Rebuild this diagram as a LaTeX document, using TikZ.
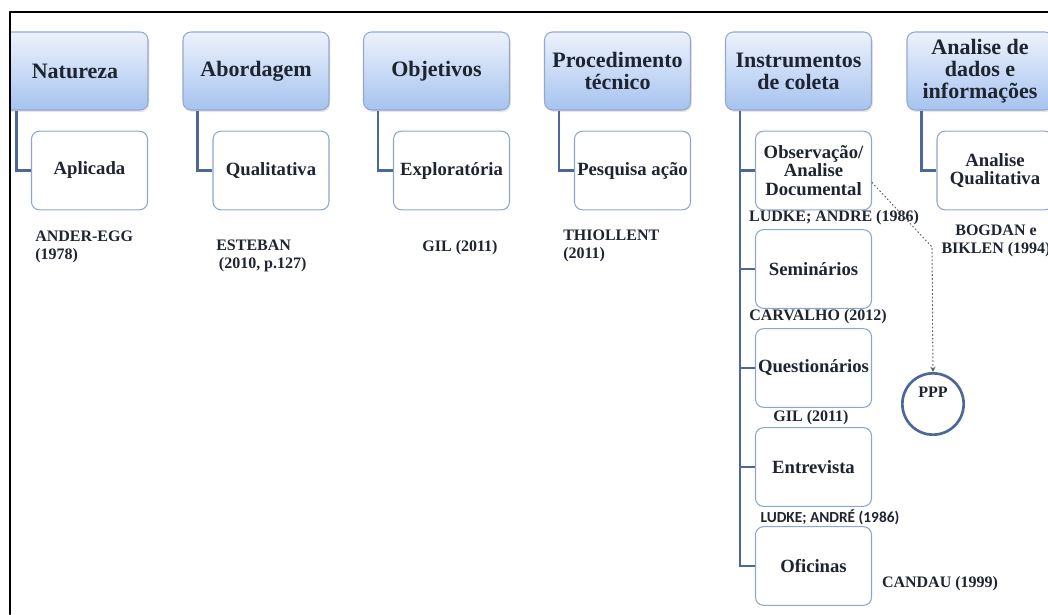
\documentclass[tikz,border=0pt]{standalone}
\usepackage{fontspec}
\setmainfont{Liberation Serif}
\setsansfont{Carlito}
\usepackage{tikz}
\usetikzlibrary{arrows.meta,calc,shadows}
\definecolor{hdrtop}{HTML}{EDF2FC}
\definecolor{hdrbot}{HTML}{A6C3EF}
\definecolor{hdrline}{HTML}{93A8CF}
\definecolor{boxline}{HTML}{8EA6CF}
\definecolor{linkblue}{HTML}{4B6899}
\definecolor{ink}{HTML}{1E2430}

\begin{document}
\begin{tikzpicture}[line cap=round,line join=round,x=0.75pt,y=-0.75pt,
    header/.style={draw=hdrline,line width=0.8pt,rounded corners=6pt,top color=hdrtop,bottom color=hdrbot,
        minimum width=109.5pt,minimum height=58.5pt,align=center,inner sep=1pt,text=ink,
        font=\fontsize{16.5}{16.5}\selectfont\bfseries,
        drop shadow={shadow xshift=1pt,shadow yshift=-1.5pt,opacity=0.2}},
    leaf/.style={draw=boxline,line width=0.8pt,rounded corners=6pt,fill=white,
        minimum width=87pt,minimum height=59pt,align=center,inner sep=1pt,text=ink,
        font=\fontsize{14}{14}\selectfont\bfseries},
    cite/.style={inner sep=0pt,align=left,text=ink,font=\fontsize{12}{14}\selectfont\bfseries},
    link/.style={draw=linkblue,line width=2.2pt,line cap=butt,line join=miter}]
    \useasboundingbox (0,0) rectangle (1048,614);
    \begin{scope}
        \clip (10,12) rectangle (1048,614);
        \node[header] (nat) at (75,71) {Natureza};
        \node[header] (abo) at (256,71) {Abordagem};
        \node[header] (obj) at (436.5,71) {Objetivos};
        \node[header] (pro) at (617.5,71) {Procedimento\\técnico};
        \node[header] (ins) at (798.5,71) {Instrumentos\\de coleta};
        \node[header] (ana) at (980,71) {Analise de\\dados e\\informações};
        \node[leaf] (apl) at (89.5,170.5) {Aplicada};
        \node[leaf] (qua) at (271,170.5) {Qualitativa};
        \node[leaf] (exp) at (451.5,170.5) {Exploratória};
        \node[leaf] (pes) at (632.5,170.5) {Pesquisa ação};
        \node[leaf] (obs) at (813.5,170.5) {Observação/\\Analise\\Documental};
        \node[leaf] (sem) at (813.5,269) {Seminários};
        \node[leaf] (que) at (813.5,368) {Questionários};
        \node[leaf] (ent) at (813.5,467) {Entrevista};
        \node[leaf] (ofi) at (813.5,566) {Oficinas};
        \node[leaf] (aqu) at (995,170.5) {Analise\\Qualitativa};
        \draw[link] ($(nat.south west)+(15,0)$) |- (apl.west);
        \draw[link] ($(abo.south west)+(15,0)$) |- (qua.west);
        \draw[link] ($(obj.south west)+(15,0)$) |- (exp.west);
        \draw[link] ($(pro.south west)+(15,0)$) |- (pes.west);
        \draw[link] ($(ana.south west)+(15,0)$) |- (aqu.west);
        \coordinate (trunk) at ($(ins.south west)+(15,0)$);
        \draw[link] (trunk) |- (ofi.west);
        \foreach \k in {obs,sem,que,ent}
            \draw[link] (trunk |- \k.west) -- (\k.west);
        \node[cite,anchor=west] (c1) at (35,247) {ANDER-EGG\\(1978)};
        \node[cite,anchor=west] (c2) at (216,256) {ESTEBAN\\\hspace{2pt}(2010, p.127)};
        \node[cite] (c3) at (460,248) {GIL (2011)};
        \node[cite,anchor=west] (c4) at (563,246) {THIOLLENT\\(2011)};
        \node[cite] (c5) at (834,218) {LUDKE; ANDRE (1986)};
        \node[cite,align=center] (c6) at (996,241) {BOGDAN e\\BIKLEN (1994)};
        \node[cite] (c7) at (818,317) {CARVALHO (2012)};
        \node[cite] (c8) at (811,418) {GIL (2011)};
        \node[cite,font=\sffamily\fontsize{11.5}{13}\selectfont\bfseries] (c9) at (830,517) {LUDKE; ANDRÉ (1986)};
        \node[cite] (c10) at (940,584) {CANDAU (1999)};
        \node[circle,draw=linkblue,line width=2pt,minimum size=46pt,inner sep=0pt] (ppp) at (933,404) {};
        \node[cite] (ppptxt) at (933,392) {PPP};
        \coordinate (bend) at (932,247);
        \draw[dotted,line width=0.8pt,black!60,-{Stealth[length=4pt,width=4pt]}] ($(obs.east)+(0,12)$) -- (bend) -- (ppp.north);
    \end{scope}
    \draw[line width=1.5pt] (10,614) -- (10,12) -- (1048,12);
\end{tikzpicture}
\end{document}
